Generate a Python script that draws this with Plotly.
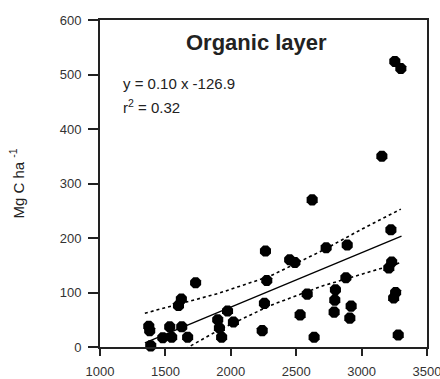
import plotly.graph_objects as go

# Scatter data (elevation-like x vs Mg C ha-1)
x_vals = [1373, 1380, 1388, 1480, 1533, 1548, 1600, 1622, 1625, 1670, 1731,
          1900, 1913, 1930, 1975, 2020, 2240, 2257, 2275, 2265, 2450, 2490,
          2530, 2584, 2622, 2637, 2729, 2800, 2795, 2790, 2880, 2890, 2920,
          2910, 3155, 3224, 3230, 3208, 3260, 3245, 3280, 3254, 3300]
y_vals = [38, 30, 2, 17, 37, 18, 76, 88, 37, 18, 118,
          50, 35, 18, 66, 46, 30, 80, 122, 176, 160, 155,
          59, 97, 270, 18, 182, 105, 86, 64, 127, 187, 75,
          53, 350, 215, 156, 145, 100, 90, 22, 524, 511]

# Regression y = 0.10 x - 126.9
slope = 0.10
intercept = -126.9
fit_x = [1343, 3305]
fit_y = [slope * v + intercept for v in fit_x]

# Confidence band
band_x = [1343, 1600, 1700, 1900, 2300, 2700, 3000, 3300]
band_upper = [62, 78, 85, 98, 130, 177, 216, 253]
band_lower = [-50, -12, 3, 30, 76, 112, 133, 155]

x_ticks = [1000, 1500, 2000, 2500, 3000, 3500]
y_ticks = [0, 100, 200, 300, 400, 500, 600]

FONT = "Liberation Sans, Arial, sans-serif"

fig = go.Figure()
fig.add_trace(go.Scatter(x=band_x, y=band_upper, mode="lines",
                         line=dict(color="black", width=1.6, dash="dot"),
                         hoverinfo="skip"))
fig.add_trace(go.Scatter(x=band_x, y=band_lower, mode="lines",
                         line=dict(color="black", width=1.6, dash="dot"),
                         hoverinfo="skip"))
fig.add_trace(go.Scatter(x=fit_x, y=fit_y, mode="lines",
                         line=dict(color="black", width=1.3)))
fig.add_trace(go.Scatter(x=x_vals, y=y_vals, mode="markers", cliponaxis=False,
                         marker=dict(symbol="octagon", size=12, color="black",
                                     line=dict(width=0))))

fig.update_layout(
    width=440, height=379,
    margin=dict(l=100, r=13, t=20, b=32),
    paper_bgcolor="white", plot_bgcolor="white",
    showlegend=False,
    font=dict(family=FONT, size=13, color="#222"),
)
fig.update_xaxes(range=[1000, 3500], tickvals=x_ticks, ticks="outside", ticklen=7,
                 tickwidth=1.5, tickcolor="#222", showline=True, linecolor="#222",
                 linewidth=1.8, mirror=True, showgrid=False, zeroline=False,
                 automargin=False, ticklabelstandoff=4, ticklabeloverflow="allow",
                 tickfont=dict(size=13, color="#333"))
fig.update_yaxes(range=[0, 600], tickvals=y_ticks, ticks="outside", ticklen=10,
                 tickwidth=1.5, tickcolor="#222", showline=True, linecolor="#222",
                 linewidth=1.8, mirror=True, showgrid=False, zeroline=False,
                 automargin=False, ticklabelstandoff=4,
                 tickfont=dict(size=13, color="#333"),
                 title=dict(text="Mg C ha <sup>-1</sup>", standoff=32,
                            font=dict(size=15, color="#222")))

fig.add_annotation(text="<b>Organic layer</b>", xref="paper", yref="paper",
                   x=0.48, y=0.93, xanchor="center", yanchor="middle",
                   showarrow=False, font=dict(size=22, color="#222", family=FONT))
fig.add_annotation(text="y = 0.10 x -126.9", xref="paper", yref="paper",
                   x=0.064, y=0.805, xanchor="left", yanchor="middle",
                   showarrow=False, font=dict(size=15, color="#222", family=FONT))
fig.add_annotation(text="r<sup>2</sup> = 0.32", xref="paper", yref="paper",
                   x=0.064, y=0.735, xanchor="left", yanchor="middle",
                   showarrow=False, font=dict(size=15, color="#222", family=FONT))

fig.write_html("out.html")
